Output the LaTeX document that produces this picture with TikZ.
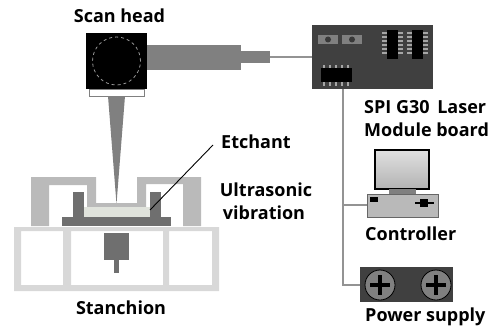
\documentclass[tikz,border=0pt]{standalone}
\usepackage{fontspec}
\setmainfont{Open Sans}
\definecolor{tubegray}{HTML}{808080}
\definecolor{boardgray}{HTML}{404040}
\definecolor{covergray}{HTML}{BABABA}
\definecolor{framegray}{HTML}{D8D8D8}
\definecolor{stagegray}{HTML}{6F6F6F}
\definecolor{etchgray}{HTML}{E0E3DC}
\tikzset{
  x=1pt,y=-1pt,
  lbl/.style={font=\bfseries\fontsize{18}{18}\selectfont,inner sep=0pt,text=black},
  lbll/.style={lbl,anchor=west},
  wire/.style={draw=gray!85,line width=1.2pt},
  box/.style={inner sep=0pt,outer sep=0pt,rectangle},
  pad/.style={fill=tubegray},
  pin/.style={draw=gray!70,line width=1.3pt},
  chip/.style={fill=black},
  framebar/.style={fill=framegray},
}
\newcommand{\boxat}[6]{\node[box,#6,anchor=north west,minimum width=#4pt-#2pt,minimum height=#5pt-#3pt] (#1) at (#2,#3) {};}
\begin{document}
\begin{tikzpicture}
\useasboundingbox (0,0) rectangle (498,329);
% scan head
\path[fill=tubegray] (108,96) -- (125,96) -- (116.5,204) -- cycle;
\boxat{bracket}{89}{89}{144}{96}{draw=gray,fill=white,line width=.8pt}
\boxat{tube}{147}{45}{241}{70}{fill=tubegray}
\boxat{tubeend}{241}{51}{270}{63}{fill=tubegray}
\boxat{head}{86}{33}{147}{89}{fill=black}
\node[circle,draw=gray!80,dashed,line width=.8pt,minimum size=48pt,inner sep=0pt] (lens) at (head.center) {};
% board
\boxat{board}{312}{25}{433}{89}{fill=boardgray}
\draw[wire] (tubeend.east) -- (board.west |- tubeend.east);
\foreach \n/\x in {a/318,b/342}{
  \boxat{pad\n}{\x}{35}{\x+20}{44}{pad}
  \fill[gray!45!black] (pad\n.center) circle (3);
}
\foreach \n/\x in {c/387,d/412}{
  \foreach \y in {33,37,41,45,49,53}{
    \draw[pin] (\x-5,\y) -- (\x+16,\y);
  }
  \boxat{chip\n}{\x}{30}{\x+11}{59}{chip}
}
\foreach \x in {325,331,337,343,349}{
  \draw[pin] (\x-1,65) -- (\x-1,86);
}
\boxat{chipe}{321}{68}{352}{82}{chip}
% controller
\boxat{monitor}{375}{150}{429}{189}{draw=black,line width=1.6pt,top color=white!88!black,bottom color=white!70!black}
\boxat{stand}{389}{189}{416}{194}{fill=gray}
\boxat{base}{367}{194}{438}{217}{draw=gray!80!black,line width=.8pt,fill=gray!55}
\fill[black] (370,197) rectangle (378,202);
\fill[black] (415,202) rectangle (434,204);
\fill[black] (420,199) rectangle (428,207);
% power
\boxat{power}{360}{267}{453}{302}{fill=boardgray}
\foreach \n/\x in {f/380,g/436}{
  \node[circle,draw=black,fill=gray,line width=.8pt,minimum size=30pt,inner sep=0pt] (screw\n) at (\x,285) {};
  \fill[black] (\x-10,283) rectangle (\x+10,287);
  \fill[black] (\x-2.2,275) rectangle (\x+2.2,295);
}
% wiring
\coordinate (busTop) at (343,89);
\coordinate (busMid) at (343,205);
\coordinate (busEnd) at (343,285);
\draw[wire] (busTop) -- (busEnd) -- (power.west |- busEnd);
\draw[wire] (busMid) -- (base.west |- busMid);
% stanchion frame
\path[framebar,even odd rule]
  (14,227) rectangle (219,291)
  (21,231) rectangle (63,285)
  (71,231) rectangle (163,285)
  (169,231) rectangle (212,285);
% cover
\fill[covergray] (31,226) -- (31,177) -- (96,177) -- (96,203) -- (137,203) -- (137,177)
  -- (201,177) -- (201,226) -- (183,226) -- (183,184) -- (146,184) -- (146,209)
  -- (87,209) -- (87,185) -- (49,185) -- (49,226) -- cycle;
% stage
\boxat{etch}{84}{207}{150}{217}{fill=etchgray}
\boxat{stage}{62}{217}{171}{226}{fill=stagegray}
\boxat{postl}{73}{192}{84}{217}{fill=stagegray}
\boxat{postr}{150}{192}{161}{217}{fill=stagegray}
\boxat{piezo}{104}{233}{129}{260}{fill=stagegray}
\boxat{stem}{114}{260}{119}{273}{fill=stagegray}
% labels
\node[lbl] (t1) at (119.5,16) {Scan head};
\node[lbll] (t2) at (221,142) {Etchant};
\node[lbl] (t3) at (266,190) {Ultrasonic};
\node[lbl] (t4) at (264,213) {vibration};
\node[lbl] (t5) at (121,308) {Stanchion};
\node[lbll] (t6) at (364,107) {SPI G30\hspace{3pt} Laser};
\node[lbll] (t7) at (364,130) {Module board};
\node[lbll] (t8) at (365,234) {Controller};
\node[lbll] (t9) at (365,317) {Power supply};
\coordinate (leadEnd) at (150,210);
\draw[black,line width=.9pt] (t2.west) ++(-8,3) -- (leadEnd);
\end{tikzpicture}
\end{document}
